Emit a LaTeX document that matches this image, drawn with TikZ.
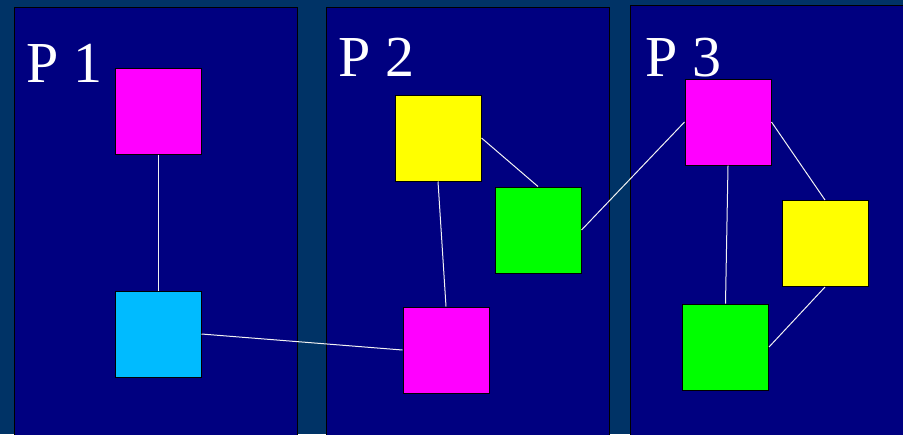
\documentclass[tikz,border=0pt]{standalone}
\usepackage{fontspec}
\setmainfont{Liberation Serif}
\usepackage{tikz}
\usetikzlibrary{positioning}
\definecolor{slide}{HTML}{003366}
\definecolor{pane}{HTML}{000080}
\definecolor{procmag}{HTML}{FF00FF}
\definecolor{proccyan}{HTML}{00BBFF}
\definecolor{procyel}{HTML}{FFFF00}
\definecolor{procgrn}{HTML}{00FF00}

\begin{document}
\begin{tikzpicture}[
  x=0.5pt, y=-0.5pt,
  panel/.style={draw=black, fill=pane, line width=0.5pt},
  proc/.style={draw=black, line width=0.5pt, minimum size=43pt, inner sep=0pt},
  link/.style={draw=white!90!gray, line width=0.5pt},
  title/.style={text=white, anchor=base west, inner sep=0pt,
    font=\fontsize{29}{34}\selectfont}
]
  \useasboundingbox (0,0) rectangle (903,434);
  \clip (0,0) rectangle (903,434);
  \fill[slide] (0,0) rectangle (903,434);

  % the three panes, running off the bottom
  \draw[panel] (14,7) rectangle (297,445);
  \draw[panel] (326,7) rectangle (609,445);
  \draw[panel] (630,5) rectangle (915,445);

  \node[title] (lab1) at (26,82) {P 1};
  \node[title] (lab2) at (338,76) {P 2};
  \node[title] (lab3) at (645,76) {P 3};

  \node[proc, fill=procmag] (mag1) at (158,111) {};
  \node[proc, fill=proccyan] (cyan1) at (158,334) {};
  \node[proc, fill=procyel] (yel2) at (438,138) {};
  \node[proc, fill=procgrn] (grn2) at (538,230) {};
  \node[proc, fill=procmag] (mag2) at (446,350) {};
  \node[proc, fill=procmag] (mag3) at (728,122) {};
  \node[proc, fill=procyel] (yel3) at (825,243.5) {};
  \node[proc, fill=procgrn] (grn3) at (725.5,347) {};

  \draw[link] (mag1.south) -- (cyan1.north);
  \draw[link] (cyan1.east) -- (mag2.west);
  \draw[link] (yel2.south) -- (mag2.north);
  \draw[link] (yel2.east) -- (grn2.north);
  \draw[link] (grn2.east) -- (mag3.west);
  \draw[link] (mag3.south) -- (grn3.north);
  \draw[link] (mag3.east) -- (yel3.north);
  \draw[link] (yel3.south) -- (grn3.east);
\end{tikzpicture}
\end{document}
